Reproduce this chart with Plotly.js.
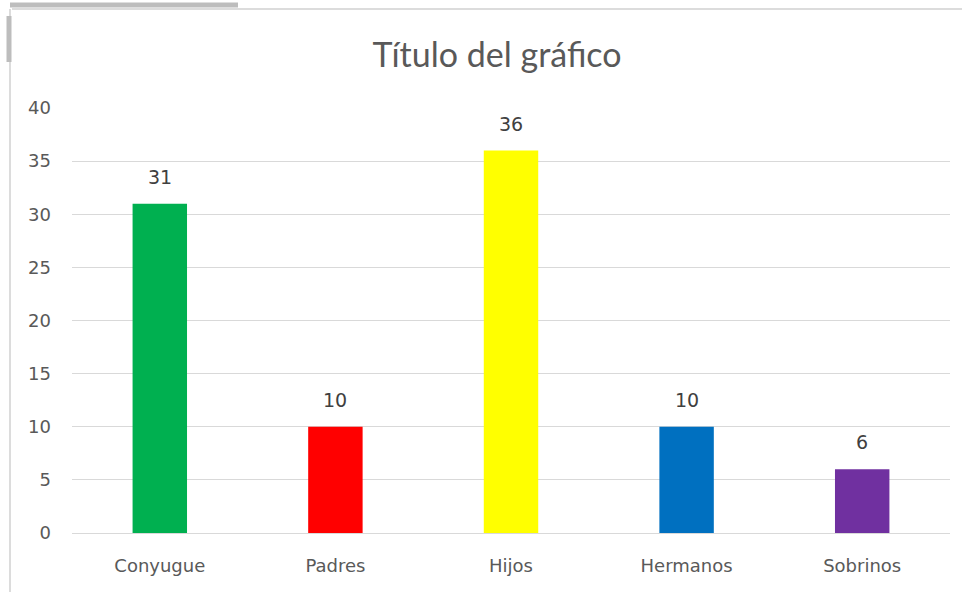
<!DOCTYPE html>
<html>
<head>
<meta charset="utf-8">
<script src="https://cdn.plot.ly/plotly-3.0.1.min.js"></script>
<style>html,body{margin:0;padding:0;background:#fff;}#chart{width:969px;height:592px;}</style>
</head>
<body>
<div id="chart"></div>
<script>
const categories = ["Conyugue", "Padres", "Hijos", "Hermanos", "Sobrinos"];
const values = [31, 10, 36, 10, 6];
const barColors = ["#00B050", "#FF0000", "#FFFF00", "#0070C0", "#7030A0"];
const yTicks = [0, 5, 10, 15, 20, 25, 30, 35, 40];

const W = 969, H = 592;
const L = 72, R = 19, T = 108, B = 59;
const pw = W - L - R, ph = H - T - B;
const px = x => (x - L) / pw;
const py = y => (H - B - y) / ph;

const labelFont = {family: "'DejaVu Sans', sans-serif", size: 19, color: "#404040"};
const tickFont = {family: "'DejaVu Sans', sans-serif", size: 18, color: "#595959"};

const trace = {
  type: "bar",
  x: categories,
  y: values,
  marker: {color: barColors},
  width: 0.31,
  hoverinfo: "none"
};

const annotations = categories.map((c, i) => ({
  x: c, y: values[i], xref: "x", yref: "y",
  text: String(values[i]),
  showarrow: false,
  yshift: 27,
  yanchor: "middle",
  xanchor: "center",
  font: labelFont
}));

const layout = {
  width: W, height: H,
  margin: {l: L, r: R, t: T, b: B, pad: 0},
  paper_bgcolor: "#ffffff",
  plot_bgcolor: "#ffffff",
  showlegend: false,
  title: {
    text: "Título del gráfico",
    x: 0.513, xanchor: "center",
    y: 1 - 55 / H, yanchor: "middle",
    font: {family: "Lato, 'Open Sans', sans-serif", size: 34, color: "#595959"}
  },
  xaxis: {
    showgrid: false,
    zeroline: false,
    showline: true,
    linecolor: "#d9d9d9",
    linewidth: 1,
    ticks: "",
    ticklabelstandoff: 16,
    tickfont: tickFont,
    fixedrange: true
  },
  yaxis: {
    range: [0, 40],
    tickvals: yTicks,
    ticktext: yTicks.map(String),
    showgrid: true,
    gridcolor: "#d9d9d9",
    gridwidth: 1,
    zeroline: false,
    showline: false,
    ticks: "",
    ticklabelstandoff: 20,
    tickfont: tickFont,
    fixedrange: true
  },
  bargap: 0.69,
  annotations: annotations,
  shapes: [
    {type: "line", xref: "paper", yref: "paper", x0: px(12), x1: px(962), y0: py(9), y1: py(9), line: {color: "#d0d0d0", width: 1.5}},
    {type: "line", xref: "paper", yref: "paper", x0: px(10), x1: px(10), y0: py(9), y1: py(592), line: {color: "#d0d0d0", width: 1.5}},
    {type: "line", xref: "paper", yref: "paper", x0: px(10), x1: px(238), y0: py(5), y1: py(5), line: {color: "#bdbdbd", width: 5}},
    {type: "line", xref: "paper", yref: "paper", x0: px(9), x1: px(9), y0: py(16), y1: py(62), line: {color: "#bdbdbd", width: 5}}
  ]
};

Plotly.newPlot("chart", [trace], layout, {displayModeBar: false, staticPlot: true});
</script>
</body>
</html>
